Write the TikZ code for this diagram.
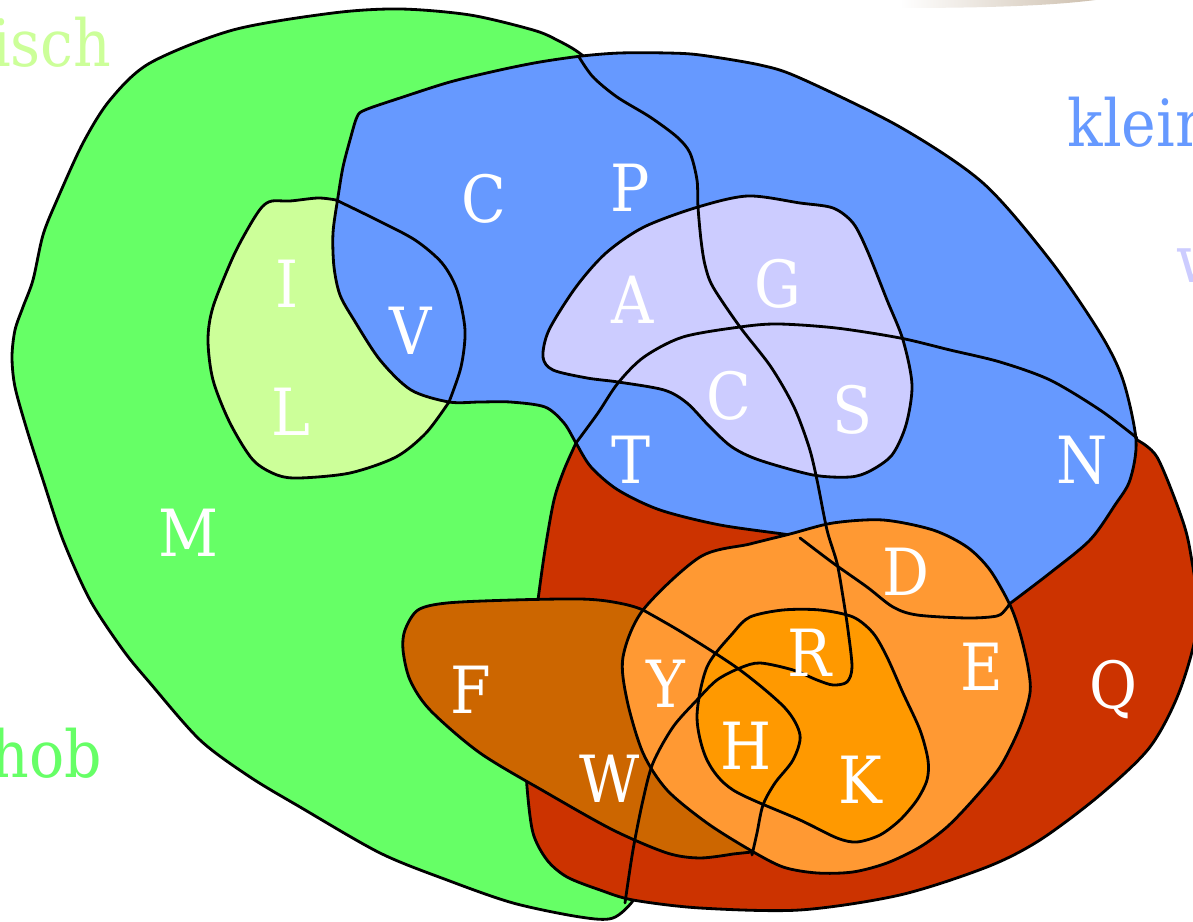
\documentclass[tikz,border=0pt]{standalone}
\usepackage{fontspec}
\setmainfont{DejaVu Serif Condensed}
\definecolor{hgreen}{HTML}{66FF66}
\definecolor{aligreen}{HTML}{CCFF99}
\definecolor{kblue}{HTML}{6699FF}
\definecolor{wlav}{HTML}{CCCCFF}
\definecolor{pred}{HTML}{CC3300}
\definecolor{arom}{HTML}{CC6600}
\definecolor{chorange}{HTML}{FF9933}
\definecolor{posorange}{HTML}{FF9900}
\definecolor{tan}{RGB}{198,182,162}
\tikzset{
  region/.style={draw=black, line width=0.8pt, line join=round},
  edge/.style={draw=black, line width=0.8pt, line cap=round},
  lbl/.style={text=white, inner sep=0pt, font=\fontsize{18.5}{22}\selectfont},
  word/.style={inner sep=0pt, font=\fontsize{18.5}{22}\selectfont},
}
\begin{document}
\begin{tikzpicture}[x=0.01cm, y=-0.01cm]
\useasboundingbox (0,0) rectangle (1193,922);
\clip (0,0) rectangle (1193,922);
\fill[white] (0,0) rectangle (1193,922);

% soft shadow at the top edge
\shade[left color=white, right color=tan]
  (900,-5) -- (900,8) .. controls (1000,8) and (1080,5) .. (1125,-5) -- cycle;

% hydrophobic (green)
\path[region, fill=hgreen] plot[smooth] coordinates {
  (620,90) (582,55) (557,40) (533,30) (470,15) (400,9) (333,13) (233,30)
  (150,63) (110,100) (83,143) (57,200) (43,235) (33,280) (23,307) (15,330)
  (12,357) (15,387) (27,430) (43,480) (63,540) (90,600) (123,650) (150,683)
  (200,740) (250,777) (300,807) (380,853) (447,880) (513,903) (580,917)
  (613,918) (635,898) (645,870)}
  -- (700,700) -- (620,470) -- cycle;

% aliphatic (light green)
\path[region, fill=aligreen] plot[smooth] coordinates {
  (449,402) (426,433) (396,457) (350,473) (300,478) (277,475) (253,460)
  (230,423) (213,380) (208,340) (213,307) (233,257) (250,225) (262,207)
  (272,201) (290,201) (318,198) (336,200)}
  -- plot[smooth] coordinates {
  (336,200) (377,220) (415,240) (442,263) (457,290) (465,330) (461,367) (449,402)}
  -- cycle;

% polar (red)
\path[region, fill=pred] plot[smooth] coordinates {
  (576,443) (564,470) (554,500) (545,550) (538,600) (532,650) (528,700)
  (526,750) (527,787) (533,833) (547,860) (567,877) (600,890) (633,900)
  (700,908) (800,910) (900,895) (987,867) (1040,840) (1100,795) (1150,747)
  (1180,690) (1198,620) (1190,550) (1180,513) (1157,457) (1137,440)}
  -- (1100,420) -- (700,420) -- cycle;

% small (blue)
\path[region, fill=kblue] plot[smooth] coordinates {
  (1008,605) (1050,573) (1090,540) (1115,505) (1130,480) (1136,440)
  (1123,380) (1100,333) (1050,260) (983,183) (900,127) (800,78) (760,65)
  (700,55) (667,53) (620,53) (582,56) (540,62) (500,70) (450,82) (400,98)
  (365,110) (357,117) (350,140) (343,167) (338,197) (333,233) (334,267)
  (340,295) (354,320) (380,360) (411,390) (449,402) (480,402) (510,402)
  (545,407) (564,423) (576,443) (591,467) (618,490) (660,510) (720,525)
  (790,535) (800,538) (833,563) (867,587) (893,607) (917,615) (967,618)
  (997,616) (1006,609)} -- cycle;

% tiny (lavender)
\path[region, fill=wlav] plot[smooth cycle] coordinates {
  (698,207) (748,196) (800,203) (833,208) (853,223) (867,250) (887,300)
  (903,340) (912,385) (906,425) (892,455) (870,471) (850,477) (813,475)
  (759,460) (732,447) (710,427) (687,403) (664,390) (618,382) (587,378)
  (553,370) (543,357) (549,330) (576,287) (606,253) (644,227)};

% boundary of the aliphatic set inside the blue one
\draw[edge] plot[smooth] coordinates {
  (336,200) (377,220) (415,240) (442,263) (457,290) (465,330) (461,367) (449,402)};

% aromatic (dark orange)
\path[region, fill=arom] plot[smooth] coordinates {
  (752,852) (757,833) (763,805) (775,783) (793,760) (800,735) (785,708)
  (740,670) (683,633) (643,610) (613,602) (580,599) (513,600) (447,603)
  (418,610) (405,630) (403,650) (410,680) (430,710) (480,753) (547,793)
  (613,830) (667,853) (700,858) (733,854)} -- cycle;

% charged (orange)
\path[region, fill=chorange] plot[smooth cycle] coordinates {
  (790,534) (833,523) (883,520) (933,530) (967,547) (990,570) (1010,605)
  (1020,633) (1028,667) (1030,693) (1020,727) (1000,767) (973,800)
  (947,827) (920,847) (887,863) (853,872) (817,873) (783,867) (750,850)
  (707,823) (667,790) (643,753) (627,700) (623,657) (643,610) (700,557)
  (750,544)};

% positive (deep orange)
\path[region, fill=posorange] plot[smooth cycle] coordinates {
  (750,617) (783,610) (820,610) (853,617) (873,633) (887,657) (903,693)
  (920,730) (928,760) (927,780) (917,800) (900,820) (880,835) (857,842)
  (837,838) (800,820) (733,790) (707,760) (697,717) (707,667) (733,633)};

% edge of the blue set across the orange one
\draw[edge] plot[smooth] coordinates {
  (800,538) (833,563) (867,587) (893,607) (917,615) (967,618) (997,616)
  (1006,609) (1010,603)};

% edge of the aromatic set across the orange ones
\draw[edge] plot[smooth] coordinates {
  (643,610) (683,633) (740,670) (785,708) (800,735) (793,760) (775,783)
  (763,805) (757,833) (752,855)};

% unfilled set boundaries
\draw[edge] plot[smooth] coordinates {
  (576,443) (598,413) (618,383) (644,357) (683,337) (740,327) (778,324)
  (836,328) (900,338) (950,350) (1000,362) (1050,380) (1100,410) (1137,438)};
\draw[edge] plot[smooth] coordinates {
  (579,57) (593,77) (617,97) (650,117) (677,137) (690,153) (697,180)
  (698,207) (701,240) (705,265) (713,287) (740,327) (771,367) (794,407)
  (809,447) (817,480) (827,530) (837,563) (843,597) (848,630) (852,667)
  (847,682) (833,685) (817,680) (793,670) (760,663) (740,668) (717,680)
  (697,700) (673,727) (653,763) (643,800) (633,850) (625,903)};

% amino acid letters
\node[lbl] (lC)  at (484,199) {C};
\node[lbl] (lP)  at (630,188) {P};
\node[lbl] (lI)  at (287,284) {I};
\node[lbl] (lV)  at (411,331) {V};
\node[lbl] (lA)  at (633,300) {A};
\node[lbl] (lG)  at (778,284) {G};
\node[lbl] (lC2) at (729,396) {C};
\node[lbl] (lS)  at (853,410) {S};
\node[lbl] (lL)  at (291,412) {L};
\node[lbl] (lT)  at (631,460) {T};
\node[lbl] (lN)  at (1082,460) {N};
\node[lbl] (lM)  at (188,533) {M};
\node[lbl] (lD)  at (906,572) {D};
\node[lbl] (lR)  at (810,653) {R};
\node[lbl] (lE)  at (982,667) {E};
\node[lbl] (lQ)  at (1113,690) {Q};
\node[lbl] (lF)  at (471,690) {F};
\node[lbl] (lY)  at (666,684) {Y};
\node[lbl] (lH)  at (746,746) {H};
\node[lbl] (lW)  at (610,779) {W};
\node[lbl] (lK)  at (860,780) {K};

% set names at the margins
\node[word, text=aligreen, anchor=base east] (wisch) at (112,67) {isch};
\node[word, text=kblue, anchor=base west] (wklein) at (1067,147) {klein};
\node[word, text=wlav, anchor=base west] (ww) at (1176,283) {w};
\node[word, text=hgreen, anchor=base east] (whob) at (103,778) {hob};
\end{tikzpicture}
\end{document}
